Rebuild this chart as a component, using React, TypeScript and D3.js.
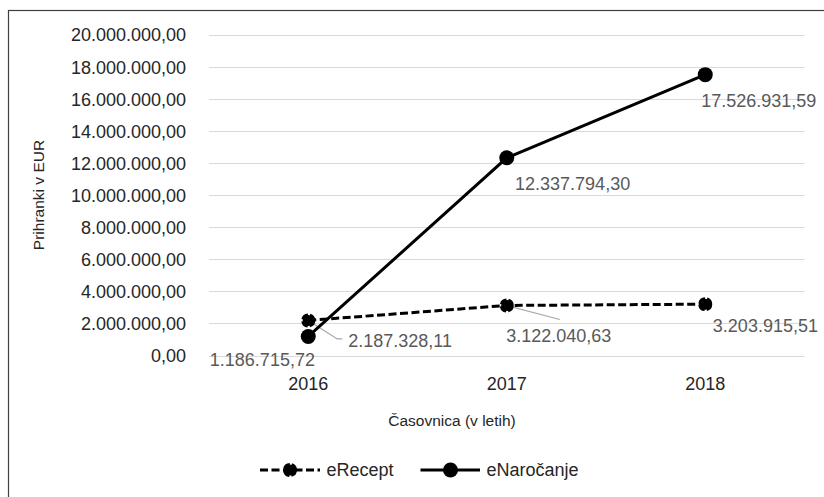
import React from "react";
import * as d3 from "d3";

const years = ["2016", "2017", "2018"];
const eRecept = [2187328.11, 3122040.63, 3203915.51];
const eNarocanje = [1186715.72, 12337794.3, 17526931.59];
const yTicks = [0, 2000000, 4000000, 6000000, 8000000, 10000000, 12000000, 14000000, 16000000, 18000000, 20000000];
const seriesNames = ["eRecept", "eNaročanje"];

// label placement offsets (style, relative to marker)
const eRecLabelOff = [
  { dx: 40, dy: 20, anchor: "start", leader: [[29, 18.5], [34, 18.5]] },
  { dx: -0.5, dy: 30.5, anchor: "start", leader: [[53, 14]] },
  { dx: 7.6, dy: 21.8, anchor: "start", leader: null },
];
const eNarLabelOff = [
  { dx: 6.7, dy: 23.5, anchor: "end" },
  { dx: 8.3, dy: 25.5, anchor: "start" },
  { dx: -4, dy: 25.4, anchor: "start" },
];

const W = 824;
const H = 497;
const FONT = "'Liberation Sans', Arial, sans-serif";

const fmt = (v: number) => {
  const [i, d] = v.toFixed(2).split(".");
  return i.replace(/\B(?=(\d{3})+(?!\d))/g, ".") + "," + d;
};

export default function App() {
  const x = d3.scaleBand<string>().domain(years).range([209, 804.5]);
  const y = d3.scaleLinear().domain([0, 20000000]).range([355.5, 35]);
  const cx = (k: string) => (x(k) as number) + x.bandwidth() / 2;
  const line = d3
    .line<number>()
    .x((_, i) => cx(years[i]))
    .y((v) => y(v));
  const dash = "8,3.5";
  const dark = "#262626";
  const labelC = "#595959";

  return (
    <svg
      width={W}
      height={H}
      style={{ position: "absolute", left: 0, top: 0, background: "#fff" }}
      fontFamily={FONT}
    >
      <rect x={8.5} y={10.5} width={W + 20} height={H + 20} fill="#fff" stroke="#404040" strokeWidth={1.2} />
      {yTicks.map((t) => (
        <g key={t}>
          <line x1={209} x2={804.5} y1={Math.round(y(t)) + 0.5} y2={Math.round(y(t)) + 0.5} stroke="#d9d9d9" strokeWidth={1} />
          <text x={186} y={y(t)} dy="0.36em" textAnchor="end" fontSize={18} fill={dark}>
            {fmt(t)}
          </text>
        </g>
      ))}
      {years.map((yr) => (
        <text key={yr} x={cx(yr)} y={390} textAnchor="middle" fontSize={18} fill={dark}>
          {yr}
        </text>
      ))}
      <text x={452} y={426} textAnchor="middle" fontSize={15.5} fill={dark}>
        Časovnica (v letih)
      </text>
      <text
        transform={`translate(38.5,195) rotate(-90)`}
        textAnchor="middle"
        dy="0.36em"
        fontSize={15.5}
        fill={dark}
      >
        Prihranki v EUR
      </text>

      {/* leader lines */}
      {eRecept.map((v, i) => {
        const o = eRecLabelOff[i];
        if (!o.leader) return null;
        const px = cx(years[i]);
        const py = y(v);
        const pts = [[px, py], ...o.leader.map(([a, b]) => [px + a, py + b])];
        return (
          <polyline
            key={"ld" + i}
            points={pts.map((p) => p.join(",")).join(" ")}
            fill="none"
            stroke="#a6a6a6"
            strokeWidth={1.2}
          />
        );
      })}

      {/* eRecept */}
      <path d={line(eRecept) || ""} fill="none" stroke="#000" strokeWidth={3} strokeDasharray={dash} />
      {eRecept.map((v, i) => (
        <circle key={"rm" + i} cx={cx(years[i])} cy={y(v)} r={5.5} fill="#000" stroke="#000" strokeWidth={3} strokeDasharray="7,2" />
      ))}

      {/* eNarocanje */}
      <path d={line(eNarocanje) || ""} fill="none" stroke="#000" strokeWidth={3} />
      {eNarocanje.map((v, i) => (
        <circle key={"nm" + i} cx={cx(years[i])} cy={y(v)} r={7.5} fill="#000" />
      ))}

      {/* data labels */}
      {eRecept.map((v, i) => {
        const o = eRecLabelOff[i];
        return (
          <text key={"rl" + i} x={cx(years[i]) + o.dx} y={y(v) + o.dy} dy="0.36em" textAnchor={o.anchor} fontSize={18} fill={labelC}>
            {fmt(v)}
          </text>
        );
      })}
      {eNarocanje.map((v, i) => {
        const o = eNarLabelOff[i];
        return (
          <text key={"nl" + i} x={cx(years[i]) + o.dx} y={y(v) + o.dy} dy="0.36em" textAnchor={o.anchor} fontSize={18} fill={labelC}>
            {fmt(v)}
          </text>
        );
      })}

      {/* legend */}
      <g>
        <line x1={260} x2={320} y1={470} y2={470} stroke="#000" strokeWidth={3} strokeDasharray={dash} />
        <circle cx={290} cy={470} r={5.5} fill="#000" stroke="#000" strokeWidth={3} strokeDasharray="7,2" />
        <text x={326.5} y={470} dy="0.36em" fontSize={18} fill={dark}>
          {seriesNames[0]}
        </text>
        <line x1={420.5} x2={480} y1={470} y2={470} stroke="#000" strokeWidth={3} />
        <circle cx={450.5} cy={470} r={7.5} fill="#000" />
        <text x={486.5} y={470} dy="0.36em" fontSize={18} fill={dark}>
          {seriesNames[1]}
        </text>
      </g>
    </svg>
  );
}
